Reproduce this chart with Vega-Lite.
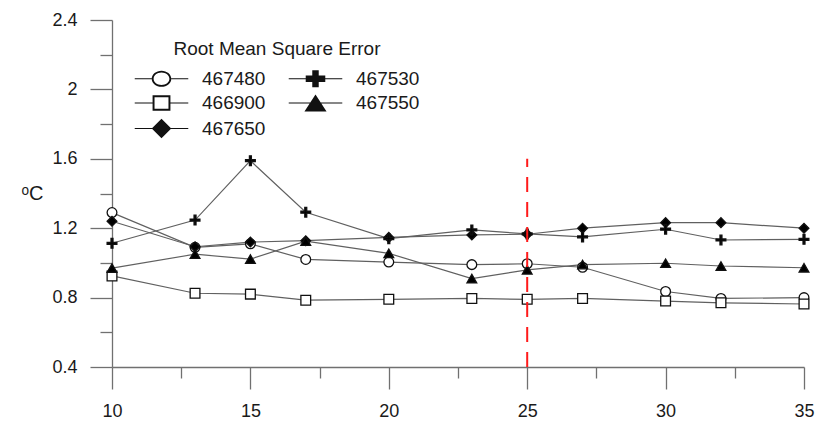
{
  "$schema": "https://vega.github.io/schema/vega-lite/v6.json",
  "width": 692,
  "height": 347,
  "autosize": {"type": "none"},
  "padding": {"left": 112, "top": 20, "right": 24, "bottom": 54},
  "background": "white",
  "config": {
    "view": {"stroke": null},
    "font": "Liberation Sans",
    "axis": {
      "grid": false,
      "domainColor": "#707070",
      "domainWidth": 1.3,
      "tickColor": "#707070",
      "tickWidth": 1.3,
      "labelColor": "#1a1a1a",
      "labelFont": "Liberation Sans",
      "labelFontSize": 18
    }
  },
  "data": {
    "values": [
      {"window": 10, "rmse": 1.29, "station": "467480"},
      {"window": 13, "rmse": 1.09, "station": "467480"},
      {"window": 15, "rmse": 1.11, "station": "467480"},
      {"window": 17, "rmse": 1.02, "station": "467480"},
      {"window": 20, "rmse": 1.005, "station": "467480"},
      {"window": 23, "rmse": 0.99, "station": "467480"},
      {"window": 25, "rmse": 0.995, "station": "467480"},
      {"window": 27, "rmse": 0.975, "station": "467480"},
      {"window": 30, "rmse": 0.835, "station": "467480"},
      {"window": 32, "rmse": 0.795, "station": "467480"},
      {"window": 35, "rmse": 0.8, "station": "467480"},

      {"window": 10, "rmse": 0.925, "station": "466900"},
      {"window": 13, "rmse": 0.825, "station": "466900"},
      {"window": 15, "rmse": 0.82, "station": "466900"},
      {"window": 17, "rmse": 0.785, "station": "466900"},
      {"window": 20, "rmse": 0.79, "station": "466900"},
      {"window": 23, "rmse": 0.795, "station": "466900"},
      {"window": 25, "rmse": 0.79, "station": "466900"},
      {"window": 27, "rmse": 0.795, "station": "466900"},
      {"window": 30, "rmse": 0.78, "station": "466900"},
      {"window": 32, "rmse": 0.77, "station": "466900"},
      {"window": 35, "rmse": 0.763, "station": "466900"},

      {"window": 10, "rmse": 1.24, "station": "467650"},
      {"window": 13, "rmse": 1.093, "station": "467650"},
      {"window": 15, "rmse": 1.12, "station": "467650"},
      {"window": 17, "rmse": 1.128, "station": "467650"},
      {"window": 20, "rmse": 1.147, "station": "467650"},
      {"window": 23, "rmse": 1.161, "station": "467650"},
      {"window": 25, "rmse": 1.165, "station": "467650"},
      {"window": 27, "rmse": 1.2, "station": "467650"},
      {"window": 30, "rmse": 1.232, "station": "467650"},
      {"window": 32, "rmse": 1.232, "station": "467650"},
      {"window": 35, "rmse": 1.2, "station": "467650"},

      {"window": 10, "rmse": 1.113, "station": "467530"},
      {"window": 13, "rmse": 1.247, "station": "467530"},
      {"window": 15, "rmse": 1.589, "station": "467530"},
      {"window": 17, "rmse": 1.292, "station": "467530"},
      {"window": 20, "rmse": 1.14, "station": "467530"},
      {"window": 23, "rmse": 1.19, "station": "467530"},
      {"window": 25, "rmse": 1.167, "station": "467530"},
      {"window": 27, "rmse": 1.15, "station": "467530"},
      {"window": 30, "rmse": 1.194, "station": "467530"},
      {"window": 32, "rmse": 1.132, "station": "467530"},
      {"window": 35, "rmse": 1.136, "station": "467530"},

      {"window": 10, "rmse": 0.97, "station": "467550"},
      {"window": 13, "rmse": 1.05, "station": "467550"},
      {"window": 15, "rmse": 1.022, "station": "467550"},
      {"window": 17, "rmse": 1.125, "station": "467550"},
      {"window": 20, "rmse": 1.055, "station": "467550"},
      {"window": 23, "rmse": 0.91, "station": "467550"},
      {"window": 25, "rmse": 0.96, "station": "467550"},
      {"window": 27, "rmse": 0.99, "station": "467550"},
      {"window": 30, "rmse": 0.998, "station": "467550"},
      {"window": 32, "rmse": 0.982, "station": "467550"},
      {"window": 35, "rmse": 0.972, "station": "467550"}
    ]
  },
  "layer": [
    {
      "mark": {"type": "line", "color": "#606060", "strokeWidth": 1.2},
      "encoding": {
        "x": {
          "field": "window", "type": "quantitative",
          "scale": {"domain": [10, 35], "nice": false, "zero": false},
          "axis": {
            "orient": "bottom",
            "title": null,
            "values": [10, 15, 20, 25, 30, 35],
            "tickSize": 22,
            "labelPadding": 13,
            "labelFlush": false
          }
        },
        "y": {
          "field": "rmse", "type": "quantitative",
          "scale": {"domain": [0.4, 2.4], "nice": false, "zero": false},
          "axis": {
            "orient": "left",
            "values": [0.4, 0.8, 1.2, 1.6, 2, 2.4],
            "format": "~g",
            "tickSize": 22,
            "labelPadding": 13,
            "labelFlush": false,
            "title": "ᵒC",
            "titleAngle": 0,
            "titleAlign": "center",
            "titleBaseline": "middle",
            "titleX": -80,
            "titleY": 173,
            "titleFont": "Liberation Sans",
            "titleFontSize": 20,
            "titleFontWeight": "normal",
            "titleColor": "#1a1a1a"
          }
        },
        "detail": {"field": "station"},
        "order": {"field": "window", "type": "quantitative"}
      }
    },
    {
      "mark": {"type": "point", "filled": true, "opacity": 1, "stroke": "#111111", "strokeWidth": 1.3, "size": 95},
      "encoding": {
        "x": {"field": "window", "type": "quantitative", "axis": null},
        "y": {"field": "rmse", "type": "quantitative", "axis": null},
        "shape": {
          "field": "station", "type": "nominal", "legend": null,
          "scale": {
            "domain": ["467480", "466900", "467650", "467530", "467550"],
            "range": [
              "circle",
              "square",
              "diamond",
              "M-1,-0.2H-0.2V-1H0.2V-0.2H1V0.2H0.2V1H-0.2V0.2H-1Z",
              "triangle-up"
            ]
          }
        },
        "fill": {
          "field": "station", "type": "nominal", "legend": null,
          "scale": {
            "domain": ["467480", "466900", "467650", "467530", "467550"],
            "range": ["#ffffff", "#ffffff", "#000000", "#000000", "#000000"]
          }
        }
      }
    },
    {
      "data": {"values": [{"site": 25, "low": 0.4, "high": 1.6}]},
      "mark": {"type": "rule", "color": "#ff1a1a", "strokeWidth": 2, "strokeDash": [15, 10]},
      "encoding": {
        "x": {"field": "site", "type": "quantitative", "axis": null},
        "y": {"field": "low", "type": "quantitative", "axis": null},
        "y2": {"field": "high"}
      }
    },
    {
      "transform": [{"filter": "datum.rmse < 0"}],
      "mark": {"type": "point", "filled": true, "opacity": 1, "color": "#111111"},
      "encoding": {
        "x": {
          "field": "window", "type": "quantitative",
          "axis": {
            "orient": "bottom",
            "title": null,
            "values": [12.5, 17.5, 22.5, 27.5, 32.5],
            "tickSize": 11,
            "labels": false,
            "domain": false
          }
        },
        "y": {
          "field": "rmse", "type": "quantitative",
          "axis": {
            "orient": "left",
            "title": null,
            "values": [0.6, 1.0, 1.4, 1.8, 2.2],
            "tickSize": 12,
            "labels": false,
            "domain": false
          }
        },
        "shape": {
          "field": "station", "type": "nominal",
          "scale": {
            "domain": ["467480", "466900", "467650", "467530", "467550"],
            "range": [
              "M-3.15,-0.07H-1.15V0.07H-3.15Z M1.15,-0.07H3.15V0.07H1.15Z M-1.15,0A1.15,0.95,0,1,0,1.15,0A1.15,0.95,0,1,0,-1.15,0Z M-0.93,0A0.93,0.73,0,1,1,0.93,0A0.93,0.73,0,1,1,-0.93,0Z",
              "M-3.15,-0.07H-1.05V0.07H-3.15Z M1.05,-0.07H3.15V0.07H1.05Z M-1.05,-0.9H1.05V0.9H-1.05Z M-0.82,-0.67V0.67H0.82V-0.67Z",
              "M-3.15,-0.07H3.15V0.07H-3.15Z M0,-1.15L1.15,0L0,1.15L-1.15,0Z",
              "M-3.15,-0.07H3.15V0.07H-3.15Z M-1.15,-0.38H-0.38V-1H0.38V-0.38H1.15V0.38H0.38V1H-0.38V0.38H-1.15Z",
              "M-3.15,-0.07H3.15V0.07H-3.15Z M0,-1L1.3,1H-1.3Z"
            ]
          },
          "legend": {
            "orient": "none",
            "legendX": 22,
            "legendY": 20,
            "padding": 0,
            "columns": 2,
            "columnPadding": 22,
            "rowPadding": 4.5,
            "title": "Root Mean Square Error",
            "titleLimit": 400,
            "titleFont": "Liberation Sans",
            "titleFontSize": 19,
            "titleFontWeight": "normal",
            "titleColor": "#1a1a1a",
            "titleAnchor": "middle",
            "titlePadding": 10,
            "labelFont": "Liberation Sans",
            "labelFontSize": 19,
            "labelColor": "#1a1a1a",
            "symbolSize": 289,
            "symbolOffset": 18,
            "labelOffset": 31,
            "symbolFillColor": "#111111",
            "symbolStrokeWidth": 0
          }
        }
      }
    }
  ],
  "resolve": {
    "scale": {"shape": "independent", "fill": "independent"},
    "axis": {"x": "independent", "y": "independent"}
  }
}
